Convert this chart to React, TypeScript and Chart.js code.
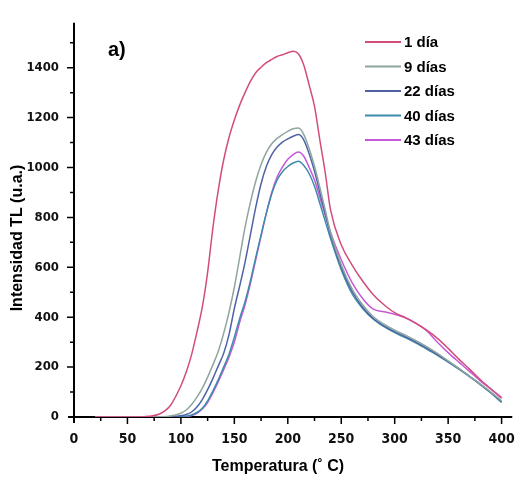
import { useEffect, useRef } from "react";
import { Chart, registerables } from "chart.js";

Chart.register(...registerables);

// Temperature grid (°C)
const temps = [20, 60, 70, 80, 90, 100, 105, 110, 115, 120, 125, 130, 135, 140, 145, 150, 155, 160, 165, 170, 175, 180, 185, 190, 195, 200, 205, 210, 215, 220, 225, 230, 235, 240, 250, 260, 270, 280, 290, 300, 310, 320, 330, 340, 350, 360, 370, 380, 390, 400];

const dia1 = [0, 0, 3, 12, 45, 125, 180, 250, 340, 440, 580, 760, 910, 1030, 1120, 1190, 1250, 1300, 1345, 1380, 1402, 1420, 1433, 1445, 1452, 1460, 1466, 1455, 1410, 1330, 1245, 1110, 980, 830, 690, 610, 545, 490, 450, 418, 398, 375, 348, 315, 275, 232, 192, 150, 112, 75];
const dia9 = [0, 0, 0, 1, 4, 15, 28, 50, 80, 115, 160, 210, 264, 335, 420, 520, 640, 760, 860, 945, 1012, 1062, 1095, 1117, 1132, 1145, 1155, 1158, 1132, 1075, 1005, 920, 830, 740, 610, 515, 450, 402, 372, 348, 328, 306, 282, 255, 225, 195, 163, 132, 100, 65];
const dia22 = [0, 0, 0, 0, 1, 5, 10, 20, 40, 70, 110, 155, 205, 255, 330, 435, 525, 620, 730, 840, 935, 1005, 1052, 1082, 1102, 1115, 1125, 1132, 1110, 1055, 985, 900, 815, 730, 600, 505, 440, 395, 365, 342, 322, 300, 276, 250, 222, 194, 163, 132, 98, 62];
const dia40 = [0, 0, 0, 0, 0, 0, 3, 8, 18, 35, 65, 105, 150, 200, 252, 320, 395, 462, 545, 640, 730, 818, 895, 950, 983, 1004, 1018, 1025, 1008, 975, 925, 856, 785, 715, 590, 495, 435, 392, 362, 338, 318, 296, 272, 247, 220, 192, 162, 130, 96, 58];
const dia43 = [0, 0, 0, 0, 0, 0, 2, 6, 15, 32, 58, 98, 142, 190, 240, 300, 380, 450, 535, 630, 725, 818, 900, 962, 1002, 1033, 1052, 1062, 1045, 1000, 950, 880, 810, 740, 630, 540, 475, 432, 422, 412, 398, 375, 345, 300, 258, 220, 183, 145, 112, 78];

const seriesLabels = ["1 día", "9 días", "22 días", "40 días", "43 días"];
const seriesValues = [dia1, dia9, dia22, dia40, dia43];
const seriesColors = ["#d24d7e", "#8ea69e", "#4e63a6", "#3d8cab", "#c55ad6"];

const xTicks = [0, 50, 100, 150, 200, 250, 300, 350, 400];
const yTicks = [0, 200, 400, 600, 800, 1000, 1200, 1400];
const xMinorStep = 25;
const yMinorStep = 100;

const xTitle = "Temperatura (˚ C)";
const yTitle = "Intensidad TL (u.a.)";
const panelLabel = "a)";

const NARROW = '"Liberation Sans Narrow", "DejaVu Sans Condensed", "Arial Narrow", sans-serif';
const SANS = '"Liberation Sans", Arial, sans-serif';

const decor = {
  id: "decor",
  beforeDatasetsDraw(chart: any) {
    const { ctx } = chart;
    const x = chart.scales.x;
    const y = chart.scales.y;
    const x0 = x.getPixelForValue(0);
    const y0 = y.getPixelForValue(0);
    ctx.save();
    ctx.strokeStyle = "#000";
    ctx.lineWidth = 2;
    ctx.beginPath();
    ctx.moveTo(x0, y.getPixelForValue(y.max));
    ctx.lineTo(x0, y0 + 6);
    ctx.moveTo(x0 - 6, y0);
    ctx.lineTo(x.getPixelForValue(x.max), y0);
    ctx.stroke();
    ctx.lineWidth = 1.5;
    ctx.beginPath();
    for (let v = yMinorStep; v <= 1500; v += yMinorStep) {
      const len = v % 200 === 0 ? 7 : 4;
      const py = y.getPixelForValue(v);
      ctx.moveTo(x0, py);
      ctx.lineTo(x0 - len, py);
    }
    for (let v = xMinorStep; v <= 400; v += xMinorStep) {
      const len = v % 50 === 0 ? 7 : 4;
      const px = x.getPixelForValue(v);
      ctx.moveTo(px, y0);
      ctx.lineTo(px, y0 + len);
    }
    ctx.stroke();
    ctx.restore();
  },
  afterDraw(chart: any) {
    const { ctx } = chart;
    ctx.save();
    ctx.fillStyle = "#000";
    // axis titles
    ctx.font = `bold 16px ${SANS}`;
    ctx.textAlign = "center";
    ctx.textBaseline = "middle";
    ctx.fillText(xTitle, 278, 467);
    ctx.save();
    ctx.translate(18, 238);
    ctx.rotate(-Math.PI / 2);
    ctx.fillText(yTitle, 0, 0);
    ctx.restore();
    // panel label
    ctx.font = `bold 20px ${SANS}`;
    ctx.textAlign = "left";
    ctx.fillText(panelLabel, 108, 50);
    // legend
    ctx.font = `bold 15px ${SANS}`;
    chart.data.datasets.forEach((ds: any, i: number) => {
      const ly = 42 + i * 24.5;
      ctx.strokeStyle = ds.borderColor;
      ctx.lineWidth = 2;
      ctx.beginPath();
      ctx.moveTo(365, ly);
      ctx.lineTo(401, ly);
      ctx.stroke();
      ctx.fillStyle = "#000";
      ctx.fillText(ds.label, 404, ly + 1);
    });
    ctx.restore();
  },
};

export default function App() {
  const ref = useRef<HTMLCanvasElement | null>(null);
  useEffect(() => {
    if (!ref.current) return;
    const chart = new Chart(ref.current, {
      type: "line",
      data: {
        datasets: seriesLabels.map((label, i) => ({
          label,
          data: temps.map((t, j) => ({ x: t, y: seriesValues[i][j] })),
          borderColor: seriesColors[i],
          backgroundColor: seriesColors[i],
          borderWidth: 1.5,
          pointRadius: 0,
          cubicInterpolationMode: "monotone" as const,
          fill: false,
        })),
      },
      options: {
        responsive: false,
        animation: false,
        devicePixelRatio: 1,
        layout: { padding: { top: 18, right: 11, left: 0, bottom: 0 } },
        plugins: { legend: { display: false }, tooltip: { enabled: false } },
        scales: {
          x: {
            type: "linear",
            min: 0,
            max: 410,
            afterBuildTicks: (s: any) => {
              s.ticks = xTicks.map((v) => ({ value: v }));
            },
            afterFit: (s: any) => {
              s.height = 64;
            },
            grid: { display: false, drawTicks: false },
            border: { display: false },
            ticks: {
              padding: 14,
              color: "#111",
              font: { family: NARROW, size: 14, weight: "bold" },
              maxRotation: 0,
              autoSkip: false,
              callback: (v: any) => String(v),
            },
          },
          y: {
            type: "linear",
            min: 0,
            max: 1580,
            afterBuildTicks: (s: any) => {
              s.ticks = yTicks.map((v) => ({ value: v }));
            },
            afterFit: (s: any) => {
              s.width = 74;
            },
            grid: { display: false, drawTicks: false },
            border: { display: false },
            ticks: {
              padding: 15,
              color: "#111",
              font: { family: NARROW, size: 13, weight: "bold" },
              autoSkip: false,
              callback: (v: any) => String(v),
            },
          },
        },
      },
      plugins: [decor],
    });
    return () => chart.destroy();
  }, []);
  return (
    <div style={{ position: "fixed", left: 0, top: 0, width: 529, height: 481, background: "#fff" }}>
      <canvas ref={ref} width={529} height={481} style={{ display: "block", width: 529, height: 481 }} />
    </div>
  );
}
